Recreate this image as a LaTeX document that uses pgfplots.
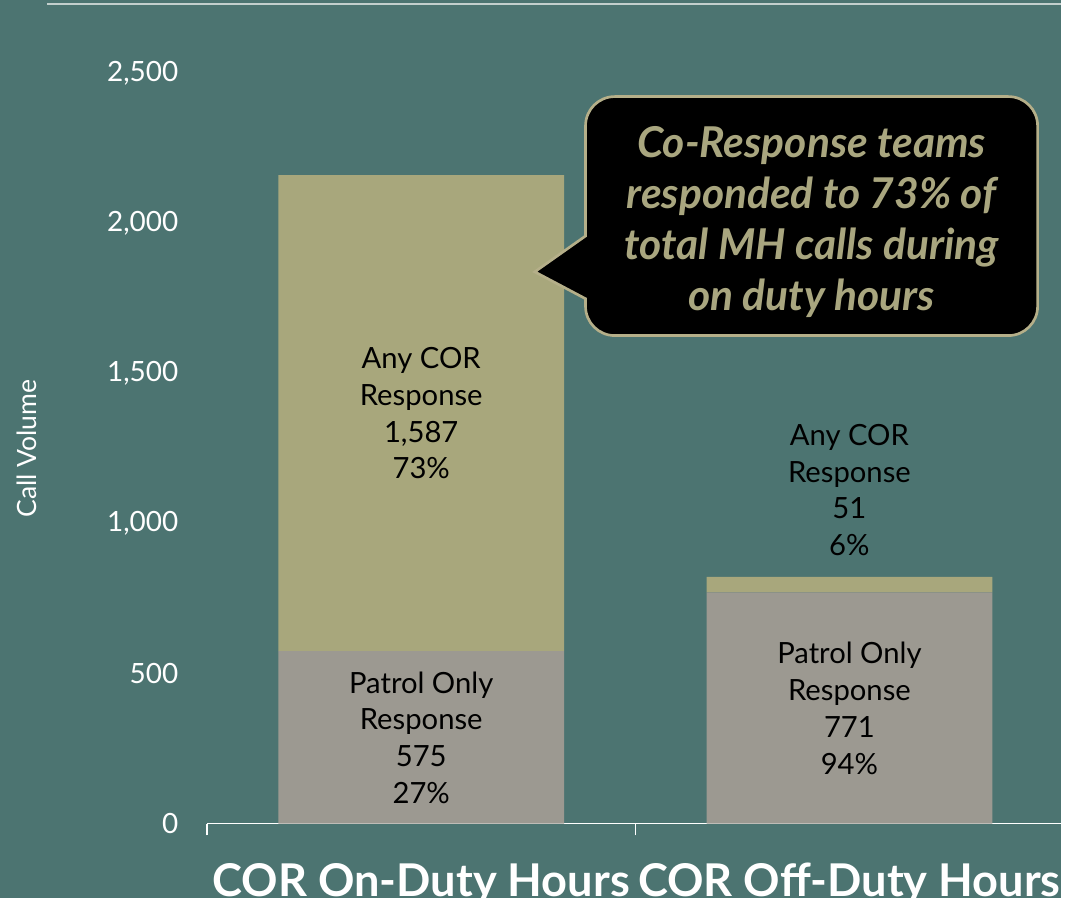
\documentclass[border=0pt]{standalone}
\usepackage{fontspec}
\setmainfont{Lato}
\usepackage{pgfplots}
\pgfplotsset{compat=1.18}

\definecolor{bg}{HTML}{4C7471}
\definecolor{olive}{HTML}{A8A77C}
\definecolor{stone}{HTML}{9C9991}
\definecolor{tan}{HTML}{A9A67F}
\definecolor{tanline}{HTML}{B5AF89}
\definecolor{rule}{HTML}{C3CFCD}

\tikzset{lbl/.style={align=center, text=black, font=\fontsize{22}{27.75}\selectfont}}

\begin{document}
\begin{tikzpicture}
% background and top rule, in pixel units (y down from top)
\begin{scope}[x=0.75pt, y=-0.75pt, shift={(0pt,676.5pt)}]
  \fill[bg] (0,0) rectangle (1065,902);
  \useasboundingbox (0,0) rectangle (1065,902);
  \draw[rule, line width=1.5pt] (47,4) -- (1065,4);
\end{scope}

\begin{axis}[
  at={(156pt,56.25pt)}, anchor=south west,
  scale only axis, width=645pt, height=564.75pt,
  xmin=-0.5, xmax=1.5, ymin=0, ymax=2500,
  ybar stacked, bar width=215.25pt,
  axis x line*=bottom, axis y line*=left,
  y axis line style={draw=none},
  x axis line style={white, line width=1.2pt, -},
  xtick={0,1},
  xticklabels={COR On-Duty Hours, COR Off-Duty Hours},
  major x tick style={draw=none},
  minor xtick={-0.5,0.5,1.5},
  minor x tick style={white, line width=1.2pt},
  minor tick length=9pt,
  tick align=outside,
  ytick={0,500,1000,1500,2000,2500},
  ytick style={draw=none},
  scaled y ticks=false,
  yticklabel style={/pgf/number format/1000 sep={,}, /pgf/number format/assume math mode=true},
  xticklabel style={font=\bfseries\fontsize{34}{40}\selectfont, text=white, yshift=-22pt},
  yticklabel style={font=\fontsize{21}{25}\selectfont, text=white, anchor=east, xshift=-14pt},
  ylabel={Call Volume},
  ylabel style={at={(axis description cs:-0.2105,0.5)}, anchor=center,
    font=\fontsize{20}{24}\selectfont, text=white},
  clip=false,
]
\addplot[fill=stone, draw=none] coordinates {(0,575) (1,771)};
\addplot[fill=olive, draw=none] coordinates {(0,1587) (1,51)};

\coordinate (l1) at (axis cs:0,1368);
\coordinate (l2) at (axis cs:0,286);
\coordinate (l3) at (axis cs:1,384);
\coordinate (l4) at (axis cs:1,1112);
\end{axis}

% segment labels, drawn above the stacked bars
\node[lbl] at (l1) {Any COR\\Response\\1,587\\73\%};
\node[lbl] at (l2) {Patrol Only\\Response\\575\\27\%};
\node[lbl] at (l3) {Patrol Only\\Response\\771\\94\%};
\node[lbl] at (l4) {Any COR\\Response\\51\\6\%};

% callout
\begin{scope}[x=0.75pt, y=-0.75pt, shift={(0pt,676.5pt)}]
  \draw[tanline, line width=2pt, fill=black]
    (815,97) [rounded corners=22pt] -- (588,97) [sharp corners] -- (588,237)
    -- (537,273) -- (588,300) [rounded corners=22pt] -- (588,337)
    -- (1042,337) -- (1042,97) -- cycle;
  \node[align=center, text=tan, font=\bfseries\itshape\fontsize{32}{38.25}\selectfont]
    at (815,223) {Co-Response teams\\responded to 73\% of\\total MH calls during\\on duty hours};
\end{scope}
\end{tikzpicture}
\end{document}
